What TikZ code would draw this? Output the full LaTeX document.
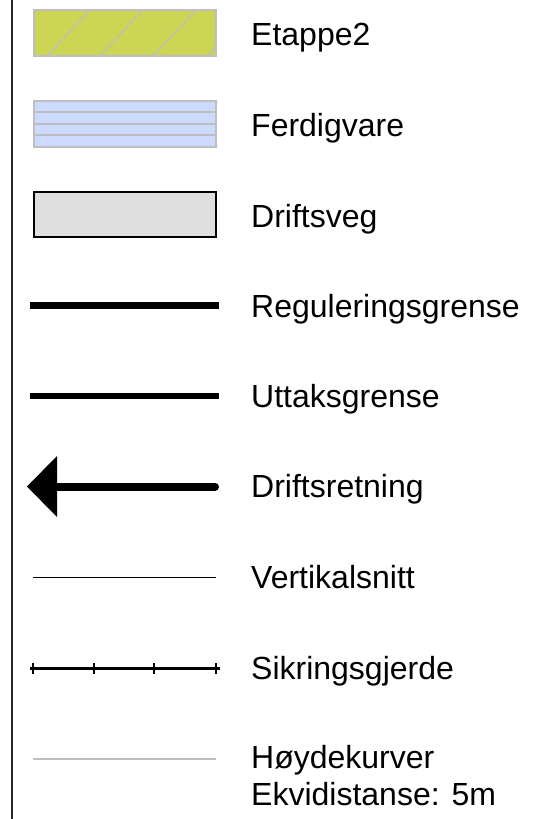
\documentclass[tikz,border=0pt]{standalone}
\usepackage{fontspec}
\setmainfont{Liberation Sans}
\usepackage{tikz}

\definecolor{etappegreen}{RGB}{204,214,84}
\definecolor{ferdigblue}{RGB}{204,218,255}
\definecolor{veggray}{RGB}{222,222,222}
\definecolor{edgegray}{RGB}{190,190,190}

\begin{document}
\begin{tikzpicture}[x=1pt,y=-1pt]
\tikzset{lbl/.style={anchor=base west,inner sep=0pt,font=\fontsize{32}{37}\selectfont}}
\useasboundingbox (0,0) rectangle (547,819);
\draw [black!85,line width=2] (12,0) -- (12,819);
% Etappe2
\fill [etappegreen] (34,10) rectangle (216,56);
\begin{scope}
\clip (34,10) rectangle (216,56);
\foreach \x in {-6,47,100,153,207}
  \draw [edgegray,line width=1.2] (\x,56) -- (\x+43,10);
\end{scope}
\draw [edgegray,line width=1.2] (34,10) rectangle (216,56);
\node [lbl] (etappe) at (251,45) {Etappe2};
% Ferdigvare
\fill [ferdigblue] (34,101) rectangle (216,147);
\foreach \y in {112,124,135}
  \draw [edgegray,line width=1.2] (34,\y) -- (216,\y);
\draw [edgegray,line width=1.2] (34,101) rectangle (216,147);
\node [lbl] (ferdig) at (251,136) {Ferdigvare};
% Driftsveg
\draw [black,fill=veggray,line width=2] (34,192) rectangle (216,237);
\node [lbl] (driftsveg) at (251,227) {Driftsveg};
% Reguleringsgrense
\draw [black,line width=7] (30,305.5) -- (219,305.5);
\node [lbl] (regulering) at (251,317) {Reguleringsgrense};
% Uttaksgrense
\draw [black,line width=6.5] (30,396) -- (219,396);
\node [lbl] (uttak) at (251,407) {Uttaksgrense};
% Driftsretning
\draw [black,line width=8,line cap=round] (215,486.5) -- (55,486.5);
\fill [black] (27,486.5) -- (57,456) -- (57,517) -- cycle;
\node [lbl] (driftsretning) at (251,497) {Driftsretning};
% Vertikalsnitt
\draw [black,line width=1] (33,577) -- (216,577);
\node [lbl] (vertikal) at (251,588) {Vertikalsnitt};
% Sikringsgjerde
\draw [black,line width=2.2] (30,668.5) -- (220,668.5);
\foreach \x in {33,94,154,216}
  \draw [black,line width=2.5] (\x,663) -- (\x,674);
\node [lbl] (sikring) at (251,679) {Sikringsgjerde};
% Hoydekurver
\draw [edgegray,line width=2.2] (33,759) -- (216,759);
\node [lbl] (hoyde) at (251,768) {Høydekurver};
\node [lbl] (ekvi) at (251,805) {Ekvidistanse: 5m};
\end{tikzpicture}
\end{document}
